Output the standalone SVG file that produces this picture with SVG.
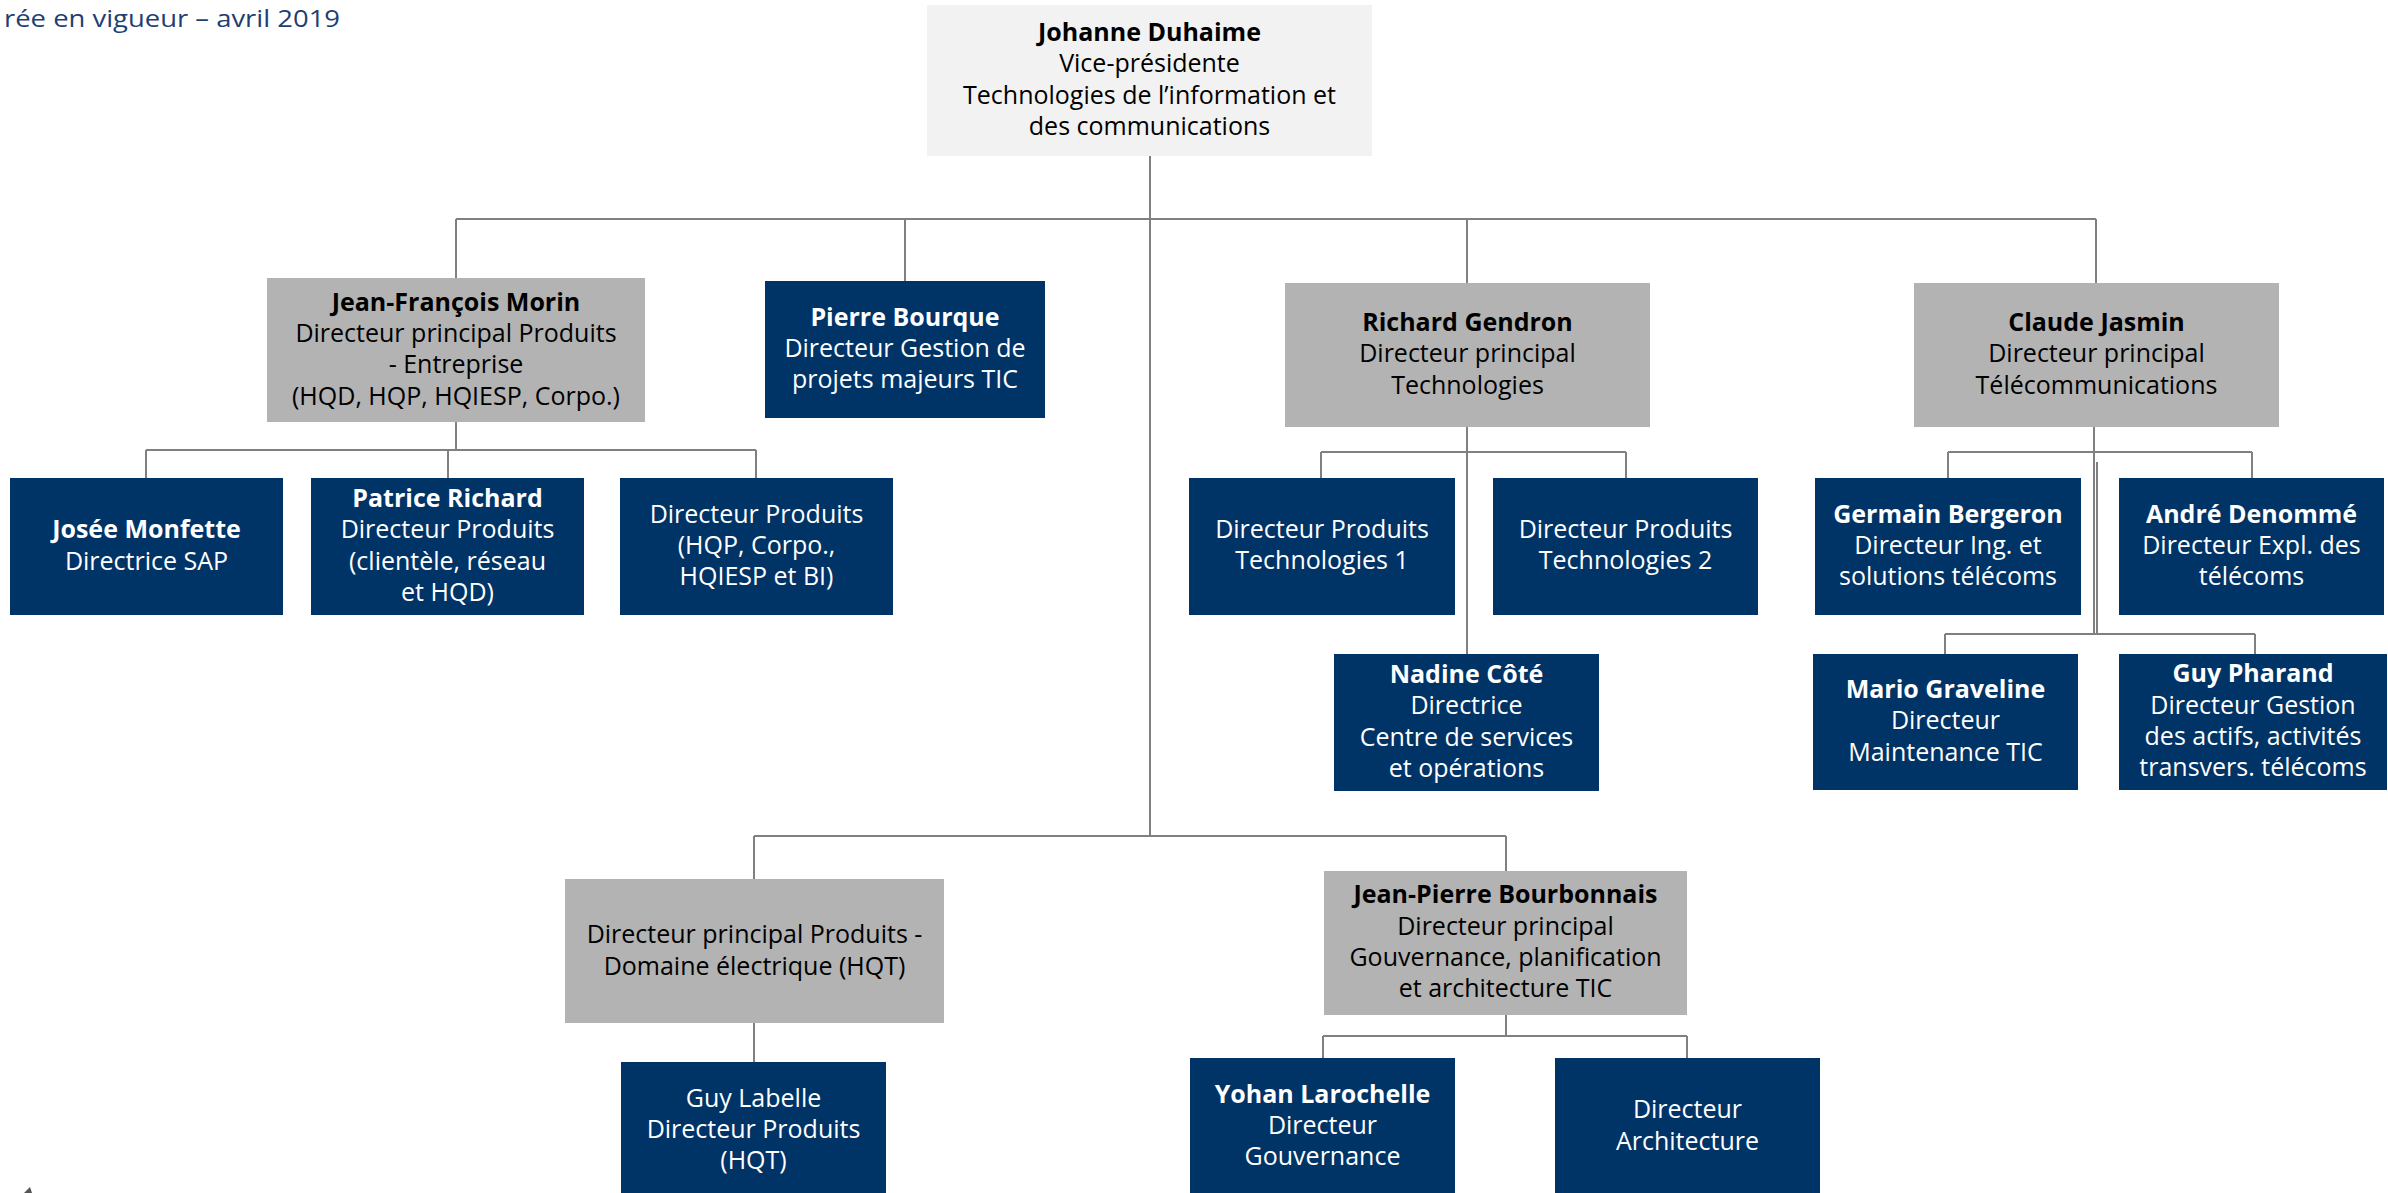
<svg xmlns="http://www.w3.org/2000/svg" width="2388" height="1193" viewBox="0 0 2388 1193">
<style>
text{font-family:"Open Sans","Liberation Sans",Arial,sans-serif;font-size:25px;text-anchor:middle}
.top{fill:#f2f2f2}
.grey{fill:#b3b3b3}
.navy{fill:#003366}
.dk{fill:#000}
.wt{fill:#fff}
.b{font-weight:700}
#connectors path{fill:none;stroke:#808080;stroke-width:2}
</style>
<rect width="2388" height="1193" fill="#fff"/>
<text x="4" y="27" textLength="336" lengthAdjust="spacingAndGlyphs" style="text-anchor:start;font-size:24px;fill:#1f3f73">rée en vigueur – avril 2019</text>
<polygon points="24,1193 30,1187 32,1193" fill="#555"/>
<g id="connectors">
<path d="M1150 156V836"/>
<path d="M456 219H2096"/>
<path d="M456 219V278M905 219V281M1467 219V283M2096 219V283"/>
<path d="M456 422V450M146 450H756M146 450V478M448 450V478M756 450V478"/>
<path d="M1467 427V654M1321 452H1626M1321 452V478M1626 452V478"/>
<path d="M2094 427V633M2097 462V633M1948 452H2252M1948 452V478M2252 452V478"/>
<path d="M1945 634H2255M1945 634V654M2255 634V654"/>
<path d="M754 836H1506M754 836V879M1506 836V871"/>
<path d="M754 1023V1062"/>
<path d="M1506 1015V1036M1323 1036H1687M1323 1036V1058M1687 1036V1058"/>
</g>
<g id="n-duhaime">
<rect class="top" x="927" y="5" width="445" height="151"/>
<text class="dk"><tspan class="b" x="1149.5" y="41">Johanne Duhaime</tspan><tspan x="1149.5" y="72">Vice-présidente</tspan><tspan x="1149.5" y="104">Technologies de l’information et</tspan><tspan x="1149.5" y="135">des communications</tspan></text>
</g>
<g id="n-morin">
<rect class="grey" x="267" y="278" width="378" height="144"/>
<text class="dk"><tspan class="b" x="456" y="311">Jean-François Morin</tspan><tspan x="456" y="342">Directeur principal Produits</tspan><tspan x="456" y="373">- Entreprise</tspan><tspan x="456" y="405">(HQD, HQP, HQIESP, Corpo.)</tspan></text>
</g>
<g id="n-bourque">
<rect class="navy" x="765" y="281" width="280" height="137"/>
<text class="wt"><tspan class="b" x="905" y="326">Pierre Bourque</tspan><tspan x="905" y="357">Directeur Gestion de</tspan><tspan x="905" y="388">projets majeurs TIC</tspan></text>
</g>
<g id="n-gendron">
<rect class="grey" x="1285" y="283" width="365" height="144"/>
<text class="dk"><tspan class="b" x="1467.5" y="331">Richard Gendron</tspan><tspan x="1467.5" y="362">Directeur principal</tspan><tspan x="1467.5" y="394">Technologies</tspan></text>
</g>
<g id="n-jasmin">
<rect class="grey" x="1914" y="283" width="365" height="144"/>
<text class="dk"><tspan class="b" x="2096.5" y="331">Claude Jasmin</tspan><tspan x="2096.5" y="362">Directeur principal</tspan><tspan x="2096.5" y="394">Télécommunications</tspan></text>
</g>
<g id="n-monfette">
<rect class="navy" x="10" y="478" width="273" height="137"/>
<text class="wt"><tspan class="b" x="146.5" y="538">Josée Monfette</tspan><tspan x="146.5" y="570">Directrice SAP</tspan></text>
</g>
<g id="n-richard">
<rect class="navy" x="311" y="478" width="273" height="137"/>
<text class="wt"><tspan class="b" x="447.5" y="507">Patrice Richard</tspan><tspan x="447.5" y="538">Directeur Produits</tspan><tspan x="447.5" y="570">(clientèle, réseau</tspan><tspan x="447.5" y="601">et HQD)</tspan></text>
</g>
<g id="n-dp-hqp">
<rect class="navy" x="620" y="478" width="273" height="137"/>
<text class="wt"><tspan x="756.5" y="523">Directeur Produits</tspan><tspan x="756.5" y="554">(HQP, Corpo.,</tspan><tspan x="756.5" y="585">HQIESP et BI)</tspan></text>
</g>
<g id="n-tech1">
<rect class="navy" x="1189" y="478" width="266" height="137"/>
<text class="wt"><tspan x="1322" y="538">Directeur Produits</tspan><tspan x="1322" y="569">Technologies 1</tspan></text>
</g>
<g id="n-tech2">
<rect class="navy" x="1493" y="478" width="265" height="137"/>
<text class="wt"><tspan x="1625.5" y="538">Directeur Produits</tspan><tspan x="1625.5" y="569">Technologies 2</tspan></text>
</g>
<g id="n-bergeron">
<rect class="navy" x="1815" y="478" width="266" height="137"/>
<text class="wt"><tspan class="b" x="1948" y="523">Germain Bergeron</tspan><tspan x="1948" y="554">Directeur Ing. et</tspan><tspan x="1948" y="585">solutions télécoms</tspan></text>
</g>
<g id="n-denomme">
<rect class="navy" x="2119" y="478" width="265" height="137"/>
<text class="wt"><tspan class="b" x="2251.5" y="523">André Denommé</tspan><tspan x="2251.5" y="554">Directeur Expl. des</tspan><tspan x="2251.5" y="585">télécoms</tspan></text>
</g>
<g id="n-cote">
<rect class="navy" x="1334" y="654" width="265" height="137"/>
<text class="wt"><tspan class="b" x="1466.5" y="683">Nadine Côté</tspan><tspan x="1466.5" y="714">Directrice</tspan><tspan x="1466.5" y="746">Centre de services</tspan><tspan x="1466.5" y="777">et opérations</tspan></text>
</g>
<g id="n-graveline">
<rect class="navy" x="1813" y="654" width="265" height="136"/>
<text class="wt"><tspan class="b" x="1945.5" y="698">Mario Graveline</tspan><tspan x="1945.5" y="729">Directeur</tspan><tspan x="1945.5" y="761">Maintenance TIC</tspan></text>
</g>
<g id="n-pharand">
<rect class="navy" x="2119" y="654" width="268" height="136"/>
<text class="wt"><tspan class="b" x="2253" y="682">Guy Pharand</tspan><tspan x="2253" y="714">Directeur Gestion</tspan><tspan x="2253" y="745">des actifs, activités</tspan><tspan x="2253" y="776">transvers. télécoms</tspan></text>
</g>
<g id="n-domaine">
<rect class="grey" x="565" y="879" width="379" height="144"/>
<text class="dk"><tspan x="754.5" y="943">Directeur principal Produits -</tspan><tspan x="754.5" y="975">Domaine électrique (HQT)</tspan></text>
</g>
<g id="n-bourbonnais">
<rect class="grey" x="1324" y="871" width="363" height="144"/>
<text class="dk"><tspan class="b" x="1505.5" y="903">Jean-Pierre Bourbonnais</tspan><tspan x="1505.5" y="935">Directeur principal</tspan><tspan x="1505.5" y="966">Gouvernance, planification</tspan><tspan x="1505.5" y="997">et architecture TIC</tspan></text>
</g>
<g id="n-labelle">
<rect class="navy" x="621" y="1062" width="265" height="137"/>
<text class="wt"><tspan x="753.5" y="1107">Guy Labelle</tspan><tspan x="753.5" y="1138">Directeur Produits</tspan><tspan x="753.5" y="1169">(HQT)</tspan></text>
</g>
<g id="n-larochelle">
<rect class="navy" x="1190" y="1058" width="265" height="137"/>
<text class="wt"><tspan class="b" x="1322.5" y="1103">Yohan Larochelle</tspan><tspan x="1322.5" y="1134">Directeur</tspan><tspan x="1322.5" y="1165">Gouvernance</tspan></text>
</g>
<g id="n-architecture">
<rect class="navy" x="1555" y="1058" width="265" height="137"/>
<text class="wt"><tspan x="1687.5" y="1118">Directeur</tspan><tspan x="1687.5" y="1150">Architecture</tspan></text>
</g>
</svg>
